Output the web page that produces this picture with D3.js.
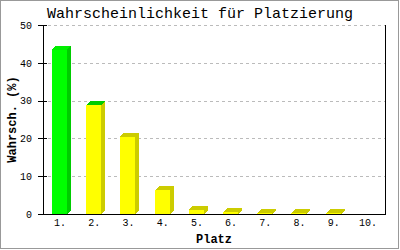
<!DOCTYPE html>
<html><head><meta charset="utf-8">
<script src="https://cdn.jsdelivr.net/npm/d3@7"></script>
<style>body{margin:0;background:#fff}svg{display:block}</style>
</head><body>
<script>
const categories = ["1.","2.","3.","4.","5.","6.","7.","8.","9.","10."];
const values = [43.4, 28.8, 20.4, 6.3, 1.1, 0.5, 0.2, 0.15, 0.15, 0];
const yTicks = [0, 10, 20, 30, 40, 50];
const title = "Wahrscheinlichkeit für Platzierung";
const xTitle = "Platz";
const yTitle = "Wahrsch. (%)";

const W = 400, H = 250;
const svg = d3.select("body").append("svg").attr("width", W).attr("height", H);
svg.append("rect").attr("x",0.5).attr("y",0.5).attr("width",W-2).attr("height",H-2)
  .attr("fill","#fff").attr("stroke","#999").attr("stroke-width",1);

const L = 43, R = 385, T = 25, B = 214;
const x = d3.scaleBand().domain(categories).range([L, R]);
const y = d3.scaleLinear().domain([0, 50]).range([B, T]);
const mono = "'Liberation Mono', 'DejaVu Sans Mono', monospace";

// grid
svg.append("g").selectAll("line").data(yTicks.filter(d => d > 0)).join("line")
  .attr("x1", L + 5).attr("x2", R).attr("y1", d => Math.round(y(d)) + 0.5).attr("y2", d => Math.round(y(d)) + 0.5)
  .attr("stroke", "#bbb").attr("stroke-dasharray", "3,3").attr("shape-rendering","crispEdges");

// bars (3D)
const bw = 15, dep = 4;
const g = svg.append("g").attr("shape-rendering","crispEdges");
values.forEach((v, i) => {
  if (v <= 0) return;
  const x0 = Math.round(x(categories[i]) + 9);
  const yt = y(v);
  const front = i === 0 ? "#00ff00" : "#ffff00";
  const side = i === 0 ? "#00cc00" : "#cccc00";
  const cap = i <= 1 ? "#00cc00" : "#cccc00";
  g.append("polygon").attr("fill", side)
    .attr("points", `${x0+bw},${yt} ${x0+bw+dep},${yt-dep} ${x0+bw+dep},${B-dep} ${x0+bw},${B}`);
  g.append("polygon").attr("fill", i===0 ? "#00ee00" : cap)
    .attr("points", `${x0},${yt} ${x0+dep},${yt-dep} ${x0+bw+dep},${yt-dep} ${x0+bw},${yt}`);
  g.append("rect").attr("x", x0).attr("y", yt).attr("width", bw).attr("height", B - yt).attr("fill", front);
});

// axes
const yAxis = d3.axisLeft(y).tickValues(yTicks).tickSize(0).tickPadding(11).tickFormat(d3.format("d"));
const ya = svg.append("g").attr("transform", `translate(${L},0)`).call(yAxis);
ya.select(".domain").remove();
ya.selectAll("text").attr("font-family", mono).attr("font-size", 10).attr("fill","#000");
svg.append("g").selectAll("line").data(yTicks).join("line")
  .attr("x1", L - 5).attr("x2", L + 4).attr("y1", d => Math.round(y(d)) + 0.5).attr("y2", d => Math.round(y(d)) + 0.5)
  .attr("stroke", "#000").attr("shape-rendering","crispEdges");

const xAxis = d3.axisBottom(x).tickSize(0).tickPadding(5);
const xa = svg.append("g").attr("transform", `translate(0,${B})`).call(xAxis);
xa.select(".domain").remove();
xa.selectAll("text").attr("font-family", mono).attr("font-size", 10).attr("fill","#000");

svg.append("line").attr("x1", L + 0.5).attr("x2", L + 0.5).attr("y1", T).attr("y2", B + 1).attr("stroke","#000").attr("shape-rendering","crispEdges");
svg.append("line").attr("x1", R + 0.5).attr("x2", R + 0.5).attr("y1", T).attr("y2", B + 1).attr("stroke","#000").attr("shape-rendering","crispEdges");
svg.append("line").attr("x1", L).attr("x2", R + 1).attr("y1", B + 0.5).attr("y2", B + 0.5).attr("stroke","#000").attr("shape-rendering","crispEdges");

// titles
svg.append("text").attr("x", 200).attr("y", 18).attr("text-anchor","middle")
  .attr("font-family", mono).attr("font-size", 15).text(title);
svg.append("text").attr("x", (L+R)/2).attr("y", 243).attr("text-anchor","middle")
  .attr("font-family", mono).attr("font-size", 12).attr("font-weight","bold").text(xTitle);
svg.append("text").attr("transform", `translate(16,${(T+B)/2}) rotate(-90)`).attr("text-anchor","middle")
  .attr("font-family", mono).attr("font-size", 12).attr("font-weight","bold").text(yTitle);
</script>
</body></html>
